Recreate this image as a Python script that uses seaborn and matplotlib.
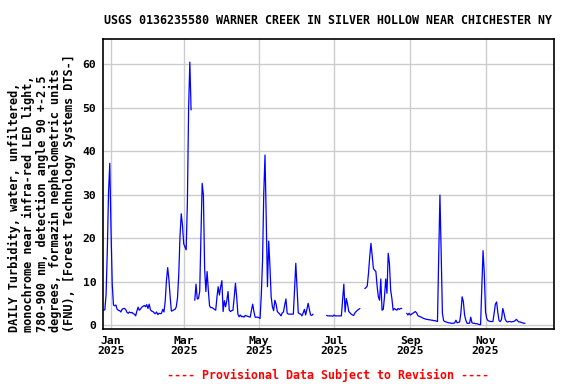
import numpy as np
import pandas as pd
import matplotlib
matplotlib.use("Agg")
import matplotlib.pyplot as plt
import seaborn as sns

nan = np.nan

# Daily turbidity values (FNU), month by month
dec_2024 = [3.4, 3.5, 7.0, 17.0, 30.5, 37.2]  # Dec 26-31
jan_2025 = [22.0, 9.4, 4.6, 4.4, 4.6, 3.6, 3.4, 3.3, 3.0, 3.6,
            3.8, 3.8, 3.5, 2.9, 2.7, 3.0, 2.8, 2.9, 2.6, 2.5,
            2.1, 3.2, 4.1, 3.4, 3.7, 4.1, 4.3, 4.5, 4.2, 4.7, 3.8]
feb_2025 = [4.8, 3.5, 3.2, 3.1, 2.8, 2.6, 3.0, 2.4, 2.7, 2.6,
            2.7, 3.6, 3.0, 5.5, 10.2, 13.2, 10.5, 6.5, 3.2, 3.3,
            3.5, 3.6, 4.2, 6.3, 11.6, 20.4, 25.6, 23.0]
mar_2025 = [18.7, 18.0, 17.3, 28.2, 50.0, 60.5, 49.5, nan, nan, 5.7,
            9.4, 6.0, 6.1, 7.7, 20.5, 32.6, 29.9, 13.0, 7.7, 12.3,
            8.0, 4.4, 4.0, 4.0, 3.8, 3.6, 3.4, 6.4, 8.8, 6.9, 8.8]
apr_2025 = [10.2, 3.1, 5.6, 4.2, 5.6, 7.7, 3.4, 3.1, 3.3, 3.4,
            6.4, 9.6, 6.5, 2.5, 1.9, 2.3, 1.9, 2.0, 1.8, 2.2,
            2.1, 2.0, 1.9, 1.8, 3.4, 4.8, 3.1, 1.8, 1.8, 1.8]
may_2025 = [1.7, 1.5, 6.9, 14.8, 30.3, 39.1, 24.4, 8.8, 19.3, 13.6,
            6.5, 4.2, 3.3, 5.7, 4.8, 3.1, 2.8, 2.5, 2.1, 2.8,
            3.0, 4.6, 6.0, 2.7, 2.5, 2.5, 2.5, 2.5, 2.5, 8.2, 14.2]
jun_2025 = [8.6, 2.8, 2.6, 2.5, 2.1, 2.8, 3.6, 2.3, 3.6, 5.0,
            3.6, 2.3, 2.2, 2.5, nan, nan, nan, nan, nan, nan,
            nan, nan, nan, nan, 2.2, 2.1, 2.1, 2.1, 2.1, 2.0]
jul_2025 = [2.3, 2.1, 2.1, 2.1, 2.1, 2.1, 2.1, 5.9, 9.4, 3.0,
            6.1, 4.8, 3.1, 2.8, 2.5, 2.3, 2.2, 2.8, 3.1, 3.4,
            3.6, 3.8, nan, 4.6, nan, 8.4, 8.6, 9.0, 11.9, 15.7, 18.8]
aug_2025 = [16.0, 13.0, 12.6, 12.3, 9.0, 6.5, 5.7, 10.6, 3.4, 3.6,
            6.5, 10.6, 7.3, 16.5, 14.2, 8.0, 6.1, 3.4, 3.8, 3.6,
            3.4, 3.8, 3.6, 3.8, 3.8, nan, nan, nan, 2.7, 2.3, 2.7]
sep_2025 = [2.3, 2.5, 2.7, 2.9, 3.1, 2.8, 2.2, 2.0, 1.9, 1.8,
            1.6, 1.5, 1.4, 1.3, 1.3, 1.2, 1.2, 1.1, 1.1, 1.0,
            1.0, 0.9, 0.8, 15.7, 29.9, 16.6, 2.7, 1.0, 0.8, 0.7]
oct_2025 = [0.6, 0.5, 0.5, 0.4, 0.4, 0.4, 0.5, 1.1, 0.5, 0.6,
            0.7, 2.8, 6.5, 5.4, 2.3, 1.1, 0.4, 0.4, 0.4, 1.8,
            0.5, 0.4, 0.4, 0.3, 0.3, 0.2, 0.1, 0.1, 8.8, 17.1, 11.9]
nov_2025 = [3.0, 1.5, 1.0, 0.9, 0.8, 0.8, 0.8, 2.7, 4.8, 5.3,
            2.8, 1.0, 0.8, 1.3, 3.8, 2.7, 1.3, 0.8, 0.7, 0.8,
            0.8, 0.7, 0.8, 0.8, 1.0, 1.3, 1.0, 0.7, 0.7, 0.6]
dec_2025 = [0.5, 0.4, 0.4]

month_starts = ["2024-12-26", "2025-01-01", "2025-02-01", "2025-03-01",
                "2025-04-01", "2025-05-01", "2025-06-01", "2025-07-01",
                "2025-08-01", "2025-09-01", "2025-10-01", "2025-11-01",
                "2025-12-01"]
month_values = [dec_2024, jan_2025, feb_2025, mar_2025, apr_2025, may_2025,
                jun_2025, jul_2025, aug_2025, sep_2025, oct_2025, nov_2025,
                dec_2025]

tick_dates = ["2025-01-01", "2025-03-01", "2025-05-01", "2025-07-01",
              "2025-09-01", "2025-11-01"]
tick_labels = ["Jan\n2025", "Mar\n2025", "May\n2025", "Jul\n2025",
               "Sep\n2025", "Nov\n2025"]
y_ticks = [0, 10, 20, 30, 40, 50, 60]

title = "USGS 0136235580 WARNER CREEK IN SILVER HOLLOW NEAR CHICHESTER NY"
ylabel = ("DAILY Turbidity, water, unfiltered,\n"
          "monochrome near infra-red LED light,\n"
          "780-900 nm, detection angle 90 +-2.5\n"
          "degrees, formazin nephelometric units\n"
          "(FNU), [Forest Technology Systems DTS-]")
footer = "---- Provisional Data Subject to Revision ----"

# Build table
dates, vals = [], []
for start, v in zip(month_starts, month_values):
    dates.extend(pd.date_range(start, periods=len(v), freq="D"))
    vals.extend(v)
df = pd.DataFrame({"date": dates, "value": vals})
df["seg"] = df["value"].isna().cumsum()
df = df.dropna().reset_index(drop=True)

sns.set_style("white")
mono = ["DejaVu Sans Mono", "DejaVu Sans"]
plt.rcParams["font.family"] = mono
plt.rcParams["font.weight"] = "bold"
plt.rcParams["text.color"] = "black"
plt.rcParams["xtick.color"] = "black"
plt.rcParams["ytick.color"] = "black"

fig = plt.figure(figsize=(5.76, 3.84), dpi=100)
ax = fig.add_axes([103.3 / 576, 1 - 329 / 384, (554 - 103.3) / 576, (329 - 39.3) / 384])

sns.lineplot(data=df, x="date", y="value", units="seg", estimator=None,
             color="#0000ff", linewidth=0.9, ax=ax, legend=False)

ax.set_xlim(pd.Timestamp("2024-12-25 18:00"), pd.Timestamp("2025-12-26 14:00"))
ax.set_ylim(-0.92, 65.75)
ax.set_xticks(pd.to_datetime(tick_dates))
ax.set_xticklabels(tick_labels, fontsize=8.2, fontweight="bold", linespacing=1.05,
                   color="black")
ax.set_yticks(y_ticks)
ax.set_yticklabels([str(t) for t in y_ticks], fontsize=8.2, fontweight="bold",
                   color="black")
ax.tick_params(axis="x", length=0, pad=5)
ax.tick_params(axis="y", length=2, width=1, pad=3, color="black")
ax.grid(True, color="#cccccc", linewidth=1.0)
ax.set_axisbelow(True)
for s in ax.spines.values():
    s.set_color("black")
    s.set_linewidth(1.2)
    s.set_visible(True)
ax.set_xlabel("")
ax.set_ylabel("")

fig.text(327.5 / 576, 1 - 21 / 384, title, ha="center", va="center",
         fontsize=8.4, fontweight="bold", color="black")
fig.text(42 / 576, 1 - 332 / 384, ylabel, rotation=90, ha="center", va="bottom",
         multialignment="left", fontsize=8.6, fontweight="bold", linespacing=1.07,
         color="black")
fig.text(328 / 576, 1 - 375 / 384, footer, ha="center", va="center",
         fontsize=8.4, fontweight="bold", color="#ff0000")

fig.savefig("out.png", dpi=100)
